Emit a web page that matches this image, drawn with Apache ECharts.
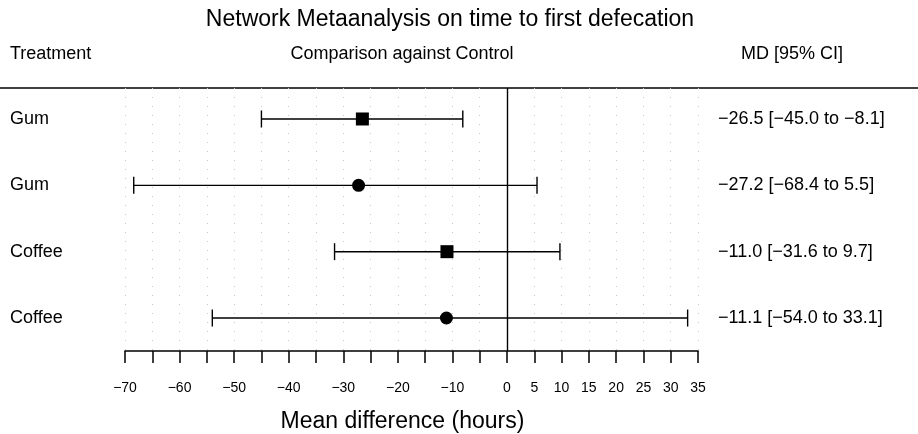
<!DOCTYPE html>
<html><head><meta charset="utf-8">
<script src="https://cdn.jsdelivr.net/npm/echarts@6/dist/echarts.min.js"></script>
<style>html,body{margin:0;padding:0;background:#fff}#c{width:918px;height:434px}</style>
</head><body><div id="c"></div>
<script>
const treatments = ['Gum', 'Gum', 'Coffee', 'Coffee'];
const md = [-26.5, -27.2, -11.0, -11.1];
const lower = [-45.0, -68.4, -31.6, -54.0];
const upper = [-8.1, 5.5, 9.7, 33.1];
const markerShapes = ['rect', 'circle', 'rect', 'circle'];
const xMin = -70, xMax = 35, xStep = 5;
const rows = [0, 1, 2, 3];

const FONT = '"Liberation Sans", Arial, Helvetica, sans-serif';
const fmt = v => (v < 0 ? '\u2212' : '') + Math.abs(v).toFixed(1);
const ciText = rows.map(i => fmt(md[i]) + ' [' + fmt(lower[i]) + ' to ' + fmt(upper[i]) + ']');

const chart = echarts.init(document.getElementById('c'), null, {renderer: 'canvas'});
const hdr = {fontFamily: FONT, fontSize: 18, fontWeight: 'normal', color: '#000'};
const option = {
  animation: false,
  backgroundColor: '#fff',
  textStyle: {fontFamily: FONT, color: '#000'},
  title: [
    {text: 'Network Metaanalysis on time to first defecation', left: 450, top: 8, textAlign: 'center', padding: 0,
     textStyle: {fontFamily: FONT, fontSize: 23, fontWeight: 'normal', color: '#000'}},
    {text: 'Treatment', left: 10, top: 45, padding: 0, textStyle: hdr},
    {text: 'Comparison against Control', left: 402, top: 45, textAlign: 'center', padding: 0, textStyle: hdr},
    {text: 'MD [95% CI]', left: 792, top: 45, textAlign: 'center', padding: 0, textStyle: hdr}
  ],
  graphic: [
    {type: 'line', shape: {x1: 0, y1: 88, x2: 918, y2: 88}, style: {stroke: '#000', lineWidth: 1.5}}
  ],
  grid: {left: 125, right: 220, top: 88, bottom: 83, containLabel: false, outerBoundsMode: 'none'},
  xAxis: {
    type: 'value', min: xMin, max: xMax, interval: xStep,
    name: 'Mean difference (hours)', nameLocation: 'middle', nameGap: 59,
    nameTextStyle: {fontFamily: FONT, fontSize: 23, color: '#000', padding: [0, 18, 0, 0]},
    axisLine: {show: true, onZero: false, lineStyle: {color: '#000', width: 1.5}},
    axisTick: {show: true, length: 12, lineStyle: {color: '#000', width: 1.5}},
    axisLabel: {
      margin: 30, fontSize: 14, color: '#000', fontFamily: FONT, showMinLabel: true, showMaxLabel: true,
      hideOverlap: false,
      formatter: v => (v >= 0 || v % 10 === 0) ? (v < 0 ? '\u2212' + Math.abs(v) : String(v)) : ''
    },
    splitLine: {show: true, lineStyle: {color: '#c8c8c8', type: [1, 8], width: 1}}
  },
  yAxis: [
    {
      type: 'value', min: -0.467, max: 3.497, inverse: true, position: 'left',
      axisLine: {show: false}, axisTick: {show: false}, splitLine: {show: false},
      axisLabel: {
        customValues: rows, align: 'left', margin: 115, fontSize: 18, color: '#000', fontFamily: FONT,
        formatter: v => treatments[Math.round(v)]
      }
    },
    {
      type: 'value', min: -0.467, max: 3.497, inverse: true, position: 'right',
      axisLine: {show: false}, axisTick: {show: false}, splitLine: {show: false},
      axisLabel: {
        customValues: rows, align: 'left', margin: 20, fontSize: 18, color: '#000', fontFamily: FONT,
        formatter: v => ciText[Math.round(v)]
      }
    }
  ],
  series: [
    {
      type: 'custom', yAxisIndex: 0,
      data: rows.map(i => [lower[i], upper[i], i]),
      encode: {x: [0, 1], y: 2},
      renderItem: (params, api) => {
        const a = api.coord([api.value(0), api.value(2)]);
        const b = api.coord([api.value(1), api.value(2)]);
        const h = 8.5;
        const st = {stroke: '#000', lineWidth: 1.4, fill: null};
        return {type: 'group', children: [
          {type: 'line', shape: {x1: a[0], y1: a[1], x2: b[0], y2: b[1]}, style: st},
          {type: 'line', shape: {x1: a[0], y1: a[1] - h, x2: a[0], y2: a[1] + h}, style: st},
          {type: 'line', shape: {x1: b[0], y1: b[1] - h, x2: b[0], y2: b[1] + h}, style: st}
        ]};
      },
      markLine: {
        silent: true, symbol: 'none', label: {show: false},
        lineStyle: {color: '#000', width: 1.4, type: 'solid'},
        data: [{xAxis: 0}]
      },
      z: 2
    },
    {
      type: 'scatter', yAxisIndex: 0,
      data: rows.map(i => ({value: [md[i], i], symbol: markerShapes[i], symbolSize: 13})),
      itemStyle: {color: '#000', opacity: 1},
      z: 3
    }
  ]
};
chart.setOption(option);
</script>
</body></html>
